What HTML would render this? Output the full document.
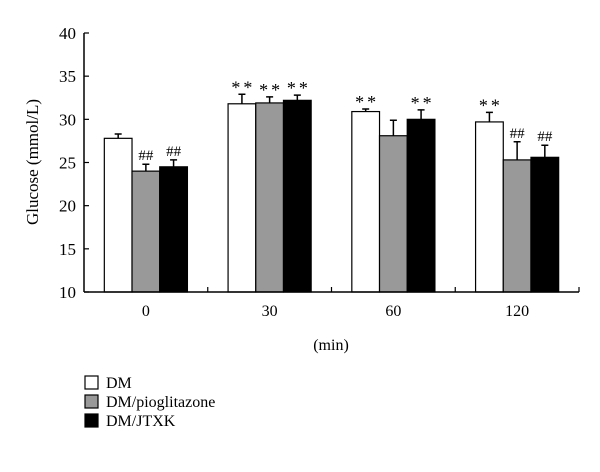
<!DOCTYPE html>
<html><head><meta charset="utf-8"><style>
body{margin:0;background:#fff}
svg text{font-family:"Liberation Serif",serif;fill:#000}
</style></head><body>
<svg id="c" width="600" height="467" xmlns="http://www.w3.org/2000/svg"></svg>
<script>
const categories=["0","30","60","120"];
const seriesNames=["DM","DM/pioglitazone","DM/JTXK"];
const dmVals=[27.8,31.8,30.9,29.7];
const pioVals=[24.0,31.9,28.1,25.3];
const jtxkVals=[24.5,32.2,30.0,25.6];
const dmErr=[0.5,1.1,0.3,1.1];
const pioErr=[0.8,0.7,1.8,2.1];
const jtxkErr=[0.8,0.6,1.1,1.4];
const dmMarks=["","**","**","**"];
const pioMarks=["##","**","","##"];
const jtxkMarks=["##","**","**","##"];
const yTicks=[10,15,20,25,30,35,40];

const NS="http://www.w3.org/2000/svg";
const svg=document.getElementById('c');
function el(t,a,p){const e=document.createElementNS(NS,t);for(const k in a)e.setAttribute(k,a[k]);(p||svg).appendChild(e);return e;}
const X0=84,X1=579,Y0=292,Y1=33,ymin=10,ymax=40;
const y=v=>Y0-(v-ymin)/(ymax-ymin)*(Y0-Y1);
const cw=(X1-X0)/categories.length;
const bw=27.7;
const fills=["#fff","#999","#000"];
const vals=[dmVals,pioVals,jtxkVals],errs=[dmErr,pioErr,jtxkErr],marks=[dmMarks,pioMarks,jtxkMarks];

categories.forEach((c,i)=>{
  const cx=X0+cw*(i+0.5);
  for(let s=0;s<3;s++){
    const bx=cx-1.5*bw+s*bw, v=vals[s][i], top=v+errs[s][i];
    const r=el('rect',{x:bx,y:y(v),width:bw,height:Y0-y(v),fill:fills[s],stroke:'#000','stroke-width':1.2});
    
    
    const e=el('path',{d:`M${bx+bw/2} ${y(v)}V${y(top)}M${bx+bw/2-3.5} ${y(top)}H${bx+bw/2+3.5}`,stroke:'#000','stroke-width':1.5,fill:'none'});
    
    
    const m=marks[s][i];
    if(m){
      const isStar=m[0]==='*';
      const t=el('text',{x:bx+bw/2+(isStar?1.5:0),y:y(top)+(isStar?-1:-4),'text-anchor':'middle','font-size':isStar?18:15,'letter-spacing':isStar?3:0});
      t.textContent=m;
      
      
    }
  }
  const lt=el('text',{x:cx,y:316,'text-anchor':'middle','font-size':16});
  lt.textContent=c;
  
  
  el('line',{x1:X0+cw*(i+1),x2:X0+cw*(i+1),y1:Y0,y2:Y0-5,stroke:'#000','stroke-width':1.2});
});
el('line',{x1:X0,x2:X1,y1:Y0,y2:Y0,stroke:'#000','stroke-width':1.5});
el('line',{x1:X0,x2:X0,y1:Y1,y2:Y0,stroke:'#000','stroke-width':1.5});
yTicks.forEach(v=>{
  el('line',{x1:X0,x2:X0+5,y1:y(v),y2:y(v),stroke:'#000','stroke-width':1.2});
  const t=el('text',{x:X0-8,y:y(v)+6,'text-anchor':'end','font-size':17});
  t.textContent=v;
  
  
});
const yt=el('text',{x:0,y:0,transform:'translate(38,162) rotate(-90)','text-anchor':'middle','font-size':17});
yt.textContent='Glucose (mmol/L)';


const xt=el('text',{x:331,y:350,'text-anchor':'middle','font-size':16});
xt.textContent='(min)';


seriesNames.forEach((n,s)=>{
  const ly=376+s*19;
  const r=el('rect',{x:85,y:ly,width:13,height:13,fill:fills[s],stroke:'#000','stroke-width':1.2});
  
  
  const t=el('text',{x:106,y:ly+12,'font-size':16});
  t.textContent=n;
  
  
});
</script>
</body></html>
